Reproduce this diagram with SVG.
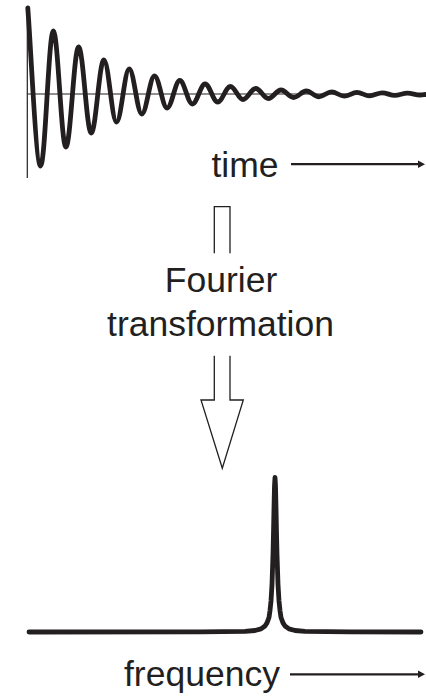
<svg xmlns="http://www.w3.org/2000/svg" width="426" height="697" viewBox="0 0 426 697">
  <style>
    .lbl { font-family: "Liberation Sans", Arial, sans-serif; font-size: 35.5px; fill: #231f20; }
    .curve { fill: none; stroke: #231f20; stroke-width: 4.8; stroke-linecap: round; stroke-linejoin: round; }
    .axis { fill: none; stroke: #231f20; stroke-width: 1.2; }
    .arr { fill: none; stroke: #231f20; stroke-width: 2.2; }
    .hollow { fill: none; stroke: #231f20; stroke-width: 1.3; stroke-linejoin: miter; }
  </style>
  <defs>
    <marker id="ah" viewBox="0 0 7 8" markerWidth="7" markerHeight="8" refX="1" refY="4" markerUnits="userSpaceOnUse" orient="auto">
      <path d="M0,0.3 L7,4 L0,7.7 z" fill="#231f20"/>
    </marker>
  </defs>
  <rect width="426" height="697" fill="#ffffff"/>

  <g id="time-signal">
    <line class="axis" x1="27.3" y1="8" x2="27.3" y2="178"/>
    <line class="axis" x1="27.3" y1="94" x2="426" y2="94"/>
    <path class="curve" d="M27.8 8 C31 50 36 166 40.6 166
      C45.2 166 48.7 31 53.3 31
      C57.9 31 61.3 147 65.9 147
      C70.5 147 74 47 78.6 47
      C83.2 47 86.6 133 91.2 133
      C95.8 133 99.3 60 103.9 60
      C108.5 60 111.9 122 116.5 122
      C121.1 122 124.6 69 129.2 69
      C133.8 69 137.2 114 141.8 114
      C146.4 114 149.9 76 154.5 76
      C159.1 76 162.5 108 167.1 108
      C171.7 108 175.2 80.5 179.8 80.5
      C184.4 80.5 187.8 104 192.4 104
      C197 104 200.5 84 205.1 84
      C209.7 84 213.1 102 217.7 102
      C222.3 102 225.8 86.5 230.4 86.5
      C235 86.5 238.4 99.5 243 99.5
      C247.6 99.5 251.1 88.5 255.7 88.5
      C260.3 88.5 263.7 98.5 268.3 98.5
      C272.9 98.5 276.4 90 281 90
      C285.6 90 289 97.5 293.6 97.5
      C298.2 97.5 301.7 91 306.3 91
      C310.9 91 314.3 96.8 318.9 96.8
      C323.5 96.8 327 91.8 331.6 91.8
      C336.2 91.8 339.6 96.2 344.2 96.2
      C348.8 96.2 352.3 92.4 356.9 92.4
      C361.5 92.4 364.9 95.8 369.5 95.8
      C374.1 95.8 377.6 92.8 382.2 92.8
      C386.8 92.8 390.2 95.4 394.8 95.4
      C399.4 95.4 402.9 93.2 407.5 93.2
      C412.1 93.2 415.5 95 420.1 95
      C423 95 424.5 94.5 426 94.5"/>
  </g>

  <g id="label-time">
    <text class="lbl" x="211.5" y="177">time</text>
  </g>

  <g id="label-fourier">
    <text class="lbl" x="221" y="292" text-anchor="middle">Fourier</text>
    <text class="lbl" x="220.5" y="336" text-anchor="middle">transformation</text>
  </g>

  <g id="spectrum">
    <polyline class="curve" points="29,632 200,631.8 245,631.3 255,630.5 261,628.9 265,626 267,622.9 269,617.5 270,610.6 271,601 272,584.3 273,554.5 273.5,532.8 274,508 274.5,486.1 275,477.5 275.5,486.1 276,508 276.5,532.8 277,554.5 278,584.3 279,601 280,610.6 281,617.5 283,622.9 285,626 289,628.9 295,630.5 305,631.3 350,631.8 421,632"/>
  </g>

  <g id="label-frequency">
    <text class="lbl" x="124" y="686">frequency</text>
  </g>

  <g id="connectors">
    <line class="arr" x1="291" y1="164.2" x2="419" y2="164.2" marker-end="url(#ah)"/>
    <line class="arr" x1="290" y1="674.3" x2="419" y2="674.3" marker-end="url(#ah)"/>
    <path class="hollow" d="M214.3 253.3 V206.7 H230 V253.3"/>
    <path class="hollow" d="M214.3 355.7 V400 H201 L222.3 468.3 L243.3 400 H230 V355.7"/>
  </g>
</svg>
